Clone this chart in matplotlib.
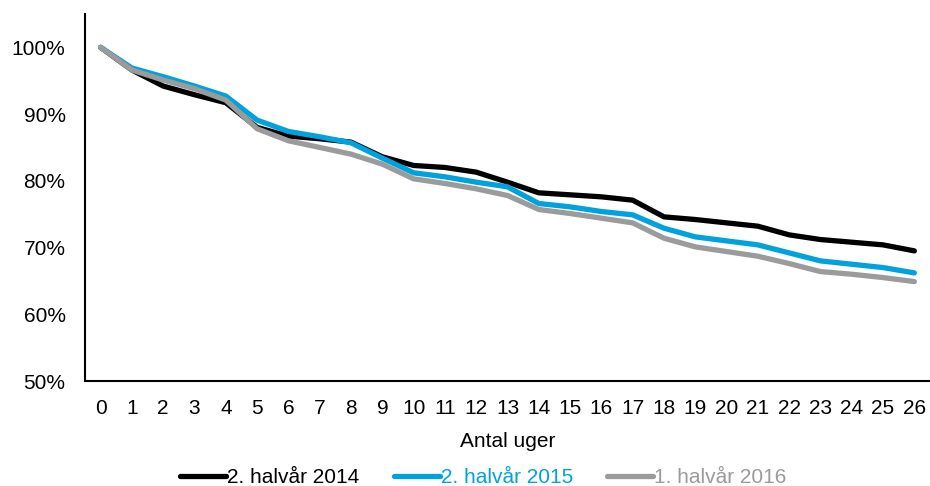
import numpy as np
import matplotlib
matplotlib.use("Agg")
import matplotlib.pyplot as plt
from matplotlib.ticker import PercentFormatter

plt.rcParams['font.family'] = ['Liberation Sans', 'DejaVu Sans']

# data
weeks = list(range(27))
h2_2014 = [100, 96.6, 94.2, 92.9, 91.7, 88.0, 86.7, 86.3, 85.8, 83.6, 82.3, 82.0, 81.3, 79.8,
           78.2, 77.9, 77.6, 77.1, 74.6, 74.2, 73.7, 73.2, 71.9, 71.2, 70.8, 70.4, 69.5]
h2_2015 = [100, 96.9, 95.6, 94.2, 92.7, 89.1, 87.4, 86.6, 85.7, 83.4, 81.2, 80.6, 79.8, 79.1,
           76.6, 76.1, 75.4, 74.9, 72.9, 71.6, 71.0, 70.4, 69.2, 68.0, 67.5, 67.0, 66.2]
h1_2016 = [100, 96.6, 95.1, 93.8, 92.1, 87.8, 86.0, 85.0, 84.0, 82.5, 80.3, 79.6, 78.8, 77.8,
           75.7, 75.1, 74.4, 73.7, 71.4, 70.1, 69.4, 68.7, 67.6, 66.4, 66.0, 65.5, 64.9]

labels = ["2. halvår 2014", "2. halvår 2015", "1. halvår 2016"]
colors = ["#000000", "#00A2DE", "#9B9B9B"]

fig = plt.figure(figsize=(9.3, 4.86), dpi=100)
ax = fig.add_axes([85 / 930, 1 - 381 / 486, 1 - 85 / 930, (381 - 14) / 486])

for series, lab, col in zip([h2_2014, h2_2015, h1_2016], labels, colors):
    ax.plot(weeks, np.array(series) / 100, color=col, lw=3.8, label=lab,
            solid_capstyle='round', solid_joinstyle='round')

ax.set_xlim(-0.5, 26.5)
ax.set_ylim(0.5, 1.05)
ax.set_yticks([0.5, 0.6, 0.7, 0.8, 0.9, 1.0])
ax.yaxis.set_major_formatter(PercentFormatter(1.0, decimals=0))
ax.set_xticks(weeks)
ax.tick_params(axis='both', length=0, labelsize=15)
ax.tick_params(axis='y', pad=14)
ax.tick_params(axis='x', pad=13)

for s in ['top', 'right']:
    ax.spines[s].set_visible(False)
for s in ['left', 'bottom']:
    ax.spines[s].set_linewidth(1.5)
    ax.spines[s].set_color('#000000')

ax.set_xlabel("Antal uger", fontsize=15, labelpad=10)

leg = fig.legend(loc='center', bbox_to_anchor=(0.52, 0.017), ncol=3, frameon=False,
                 fontsize=15, handlelength=2.2, handletextpad=0.05, columnspacing=1.65)
for txt, col in zip(leg.get_texts(), colors):
    txt.set_color(col)

fig.savefig("out.png", dpi=100)
